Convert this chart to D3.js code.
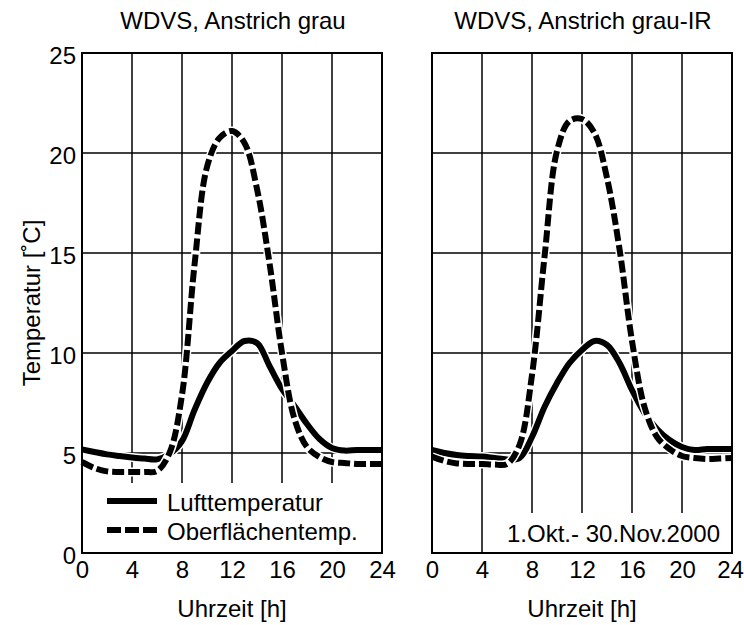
<!DOCTYPE html>
<html>
<head>
<meta charset="utf-8">
<script src="https://cdn.jsdelivr.net/npm/d3@7"></script>
<style>
  html, body { margin: 0; padding: 0; background: #fff; }
  svg { display: block; font-family: "Liberation Sans", Arial, Helvetica, sans-serif; }
</style>
</head>
<body>
<svg id="chart" width="744" height="625"></svg>
<script>
// Hourly mean values, 1 Oct – 30 Nov 2000
const hours = [0, 1, 2, 3, 4, 5, 6, 7, 8, 9, 10, 11, 12, 13, 14, 15, 16, 17, 18, 19, 20, 21, 22, 23, 24];

// Panel 1: WDVS, Anstrich grau
const luftGrau = [5.18, 5.05, 4.93, 4.85, 4.78, 4.72, 4.68, 4.95, 5.6, 7.15, 8.5, 9.5, 10.1, 10.6, 10.5, 9.35, 8.2, 7.35, 6.45, 5.7, 5.25, 5.12, 5.15, 5.15, 5.15];
const oberGrau = [4.55, 4.25, 4.08, 4.05, 4.05, 4.05, 4.1, 5.0, 7.9, 14.4, 19.3, 20.75, 21.1, 20.5, 18.2, 14.5, 10.0, 6.7, 5.3, 4.8, 4.55, 4.5, 4.45, 4.45, 4.45];

// Panel 2: WDVS, Anstrich grau-IR
const luftIR = [5.15, 5.0, 4.9, 4.85, 4.82, 4.75, 4.68, 4.75, 5.8, 7.3, 8.5, 9.5, 10.15, 10.6, 10.4, 9.5, 8.15, 7.0, 6.2, 5.65, 5.3, 5.15, 5.2, 5.2, 5.2];
const oberIR = [4.82, 4.6, 4.48, 4.45, 4.45, 4.42, 4.45, 5.4, 8.9, 14.8, 20.1, 21.6, 21.7, 21.0, 18.75, 15.2, 10.6, 7.3, 5.8, 5.2, 4.85, 4.75, 4.7, 4.72, 4.75];

const panelTitles = ["WDVS, Anstrich grau", "WDVS, Anstrich grau-IR"];
const xTicks = [0, 4, 8, 12, 16, 20, 24];
const yTicks = [0, 5, 10, 15, 20, 25];
const seriesNames = ["Lufttemperatur", "Oberflächentemp."];
const xTitle = "Uhrzeit [h]";
const yTitle = "Temperatur [˚C]";
const periodNote = "1.Okt.- 30.Nov.2000";

const svg = d3.select("#chart");
const W = 300, H = 500;
const FS = 24;
const panelX = [82, 432];
const panelY = 53;

const x = d3.scaleLinear().domain([0, 24]).range([0, W]);
const y = d3.scaleLinear().domain([0, 25]).range([H, 0]);

const line = d3.line()
  .x((d, i) => x(hours[i]))
  .y(d => y(d))
  .curve(d3.curveCatmullRom.alpha(0.5));

const panels = [
  { title: panelTitles[0], luft: luftGrau, ober: oberGrau, legend: true },
  { title: panelTitles[1], luft: luftIR, ober: oberIR, legend: false }
];

panels.forEach((p, pi) => {
  const g = svg.append("g").attr("transform", `translate(${panelX[pi]},${panelY})`);

  // grid
  g.append("g").selectAll("line.v").data(xTicks.slice(1, -1)).join("line")
    .attr("x1", d => x(d)).attr("x2", d => x(d))
    .attr("y1", 0).attr("y2", H)
    .attr("stroke", "#000").attr("stroke-width", 1.5);
  g.append("g").selectAll("line.h").data(yTicks.slice(1, -1)).join("line")
    .attr("x1", 0).attr("x2", W)
    .attr("y1", d => y(d)).attr("y2", d => y(d))
    .attr("stroke", "#000").attr("stroke-width", 1.5);

  // white boxes behind the legend / period note
  if (p.legend) {
    g.append("rect").attr("x", 16).attr("y", 430).attr("width", W - 16).attr("height", H - 430).attr("fill", "#fff");
  } else {
    g.append("rect").attr("x", 64).attr("y", 460).attr("width", W - 64).attr("height", H - 460).attr("fill", "#fff");
  }

  // curves: white halo underneath, then black stroke
  const drawSeries = (vals, dashed) => {
    g.append("path").datum(vals).attr("d", line)
      .attr("fill", "none").attr("stroke", "#fff").attr("stroke-width", 9)
      .attr("stroke-linejoin", "round");
    g.append("path").datum(vals).attr("d", line)
      .attr("fill", "none").attr("stroke", "#000").attr("stroke-width", 6)
      .attr("stroke-linejoin", "round")
      .attr("stroke-dasharray", dashed ? "12,4" : null);
  };
  drawSeries(p.luft, false);
  drawSeries(p.ober, true);

  // frame
  g.append("rect").attr("x", 0).attr("y", 0).attr("width", W).attr("height", H)
    .attr("fill", "none").attr("stroke", "#000").attr("stroke-width", 2);

  // x axis labels
  const xa = g.append("g").attr("transform", `translate(0,${H})`)
    .call(d3.axisBottom(x).tickValues(xTicks).tickSize(0).tickPadding(8).tickFormat(d3.format("d")));
  xa.select(".domain").remove();
  xa.selectAll("text").attr("font-size", FS).attr("font-family", null).attr("fill", "#000");
  // keep the last label of the right panel inside the page
  if (pi === 1) xa.selectAll("text").filter(d => d === 24).attr("dx", -2);

  // y axis labels (first panel only)
  if (pi === 0) {
    const ya = g.append("g")
      .call(d3.axisLeft(y).tickValues(yTicks).tickSize(0).tickPadding(6).tickFormat(d3.format("d")));
    ya.select(".domain").remove();
    ya.selectAll("text").attr("font-size", FS).attr("font-family", null).attr("fill", "#000").attr("dy", "0.44em");
  }

  // panel title
  g.append("text").attr("x", W / 2 + 1).attr("y", 28.5 - panelY)
    .attr("text-anchor", "middle").attr("font-size", FS).text(p.title);

  // x title
  g.append("text").attr("x", W / 2).attr("y", 617 - panelY)
    .attr("text-anchor", "middle").attr("font-size", FS).text(xTitle);

  if (p.legend) {
    const lg = g.append("g");
    const rows = [
      { name: seriesNames[0], dashed: false, yy: 448, ty: 458 },
      { name: seriesNames[1], dashed: true, yy: 477, ty: 487 }
    ];
    rows.forEach(r => {
      lg.append("line").attr("x1", 25).attr("x2", 75).attr("y1", r.yy).attr("y2", r.yy)
        .attr("stroke", "#000").attr("stroke-width", 6)
        .attr("stroke-dasharray", r.dashed ? "14,4" : null);
      lg.append("text").attr("x", 85).attr("y", r.ty).attr("font-size", FS).text(r.name);
    });
  } else {
    g.append("text").attr("x", 288).attr("y", 542 - panelY)
      .attr("text-anchor", "end").attr("font-size", FS).text(periodNote);
  }
});

// y title
svg.append("text")
  .attr("transform", `translate(40,${panelY + H / 2}) rotate(-90)`)
  .attr("text-anchor", "middle").attr("font-size", FS).text(yTitle);
</script>
</body>
</html>
